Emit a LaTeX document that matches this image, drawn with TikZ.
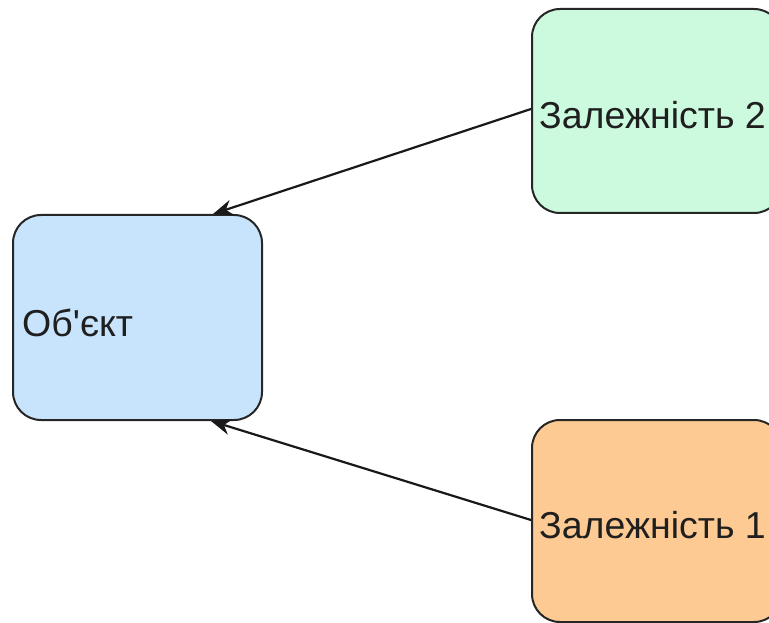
\documentclass[tikz,border=0pt]{standalone}
\usepackage{fontspec}
\setmainfont{Liberation Sans}
% label font without TeX ligature mapping, so ' stays a straight apostrophe
\newfontfamily\labelfont{Liberation Sans}
\usetikzlibrary{arrows.meta}
\definecolor{objfill}{RGB}{200,228,252}
\definecolor{depgreen}{RGB}{204,250,222}
\definecolor{deporange}{RGB}{252,202,146}
\tikzset{
  box/.style={draw=black!85, line width=2pt, rounded corners=28pt, inner sep=0pt},
  lbl/.style={anchor=west, inner sep=0pt, font=\labelfont\fontsize{37.5}{40}\selectfont, text=black!88},
  dep/.style={draw=black!90, line width=2.2pt, -{Stealth[length=20pt,width=16pt]}}
}
\begin{document}
\begin{tikzpicture}[x=1pt,y=-1pt]
  \useasboundingbox (0,0) rectangle (769,623);
  \clip (0,0) rectangle (769,623);
  % boxes
  \node[box, fill=objfill, minimum width=249pt, minimum height=205pt] (obj) at (137.5,317.5) {};
  \node[box, fill=depgreen, minimum width=250pt, minimum height=204pt] (dep2) at (657,111) {};
  \node[box, fill=deporange, minimum width=250pt, minimum height=202pt] (dep1) at (657,521) {};
  % labels
  \node[lbl] (objtext) at (22,323) {Об'єкт};
  \node[lbl] (dep2text) at (539,115) {Залежність 2};
  \node[lbl] (dep1text) at (539,525) {Залежність 1};
  % arrow targets on the object box
  \coordinate (intop) at ([xshift=-50pt]obj.north east);
  \coordinate (inbot) at ([xshift=-52pt]obj.south east);
  % dependency arrows
  \draw[dep] ([yshift=2pt]dep2.west) -- (intop);
  \draw[dep] ([yshift=1pt]dep1.west) -- (inbot);
\end{tikzpicture}
\end{document}
